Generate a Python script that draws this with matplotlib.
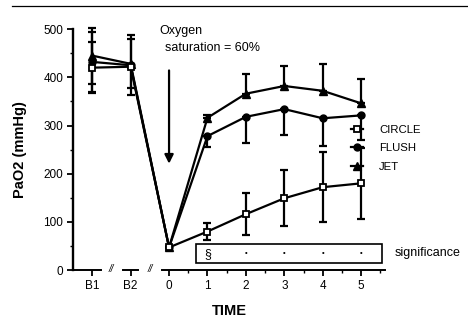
import numpy as np
import matplotlib.pyplot as plt
from matplotlib.patches import Rectangle

plt.rcParams['font.family'] = ['Liberation Sans', 'DejaVu Sans']

# time points: B1, B2 baselines, then 0..5
t = [-2, -1, 0, 1, 2, 3, 4, 5]
tick_labels = ['B1', 'B2', '0', '1', '2', '3', '4', '5']

circle = [420, 422, 47, 80, 116, 149, 172, 180]
circle_err = [53, 58, 0, 18, 43, 58, 72, 74]

flush = [432, 425, 47, 278, 318, 334, 315, 321]
flush_lo = [62, 47, 0, 22, 55, 54, 57, 51]
flush_hi = [62, 0, 0, 0, 0, 0, 0, 0]

jet = [445, 428, 47, 316, 366, 382, 372, 346]
jet_lo = [58, 0, 0, 0, 0, 0, 0, 0]
jet_hi = [58, 60, 0, 5, 40, 42, 55, 50]

sig_t = [1, 2, 3, 4, 5]
sig_marks = ['§', '•', '•', '•', '•']

fig = plt.figure(figsize=(4.68, 3.2), dpi=100)
ax = fig.add_axes([0.156, 0.156, 0.669, 0.753])

lw = 1.6
eb = dict(fmt='none', ecolor='k', elinewidth=lw, capsize=3, capthick=lw, clip_on=False)
ax.errorbar(t, jet, yerr=[jet_lo, jet_hi], **eb)
ax.errorbar(t, flush, yerr=[flush_lo, flush_hi], **eb)
ax.errorbar(t, circle, yerr=circle_err, **eb)

ax.plot(t, jet, color='k', lw=lw, marker='^', ms=5.5, mfc='k', mec='k', label='JET', clip_on=False)
ax.plot(t, flush, color='k', lw=lw, marker='o', ms=5, mfc='k', mec='k', label='FLUSH', clip_on=False)
ax.plot(t, circle, color='k', lw=lw, marker='s', ms=5, mfc='white', mec='k', mew=1.3,
        label='CIRCLE', clip_on=False, zorder=3)

h, l = ax.get_legend_handles_labels()
ax.legend(h[::-1], l[::-1], loc='upper left', bbox_to_anchor=(0.865, 0.63), frameon=False,
          handlelength=1.1, handletextpad=1.4, labelspacing=0.72, fontsize=8.2,
          borderaxespad=0.2)

# oxygen saturation arrow
ax.annotate('', xy=(0, 215), xytext=(0, 420),
            arrowprops=dict(arrowstyle='-|>', lw=lw, color='k', mutation_scale=13))
ax.text(-0.24, 496, 'Oxygen', fontsize=9, va='center', ha='left')
ax.text(-0.1, 461, 'saturation = 60%', fontsize=9, va='center', ha='left')

# significance strip
ax.add_patch(Rectangle((0.7, 15), 4.85, 39, fill=False, ec='k', lw=1.2))
for x, m in zip(sig_t, sig_marks):
    ax.text(x, 34, m, fontsize=9 if m == '§' else 5.5, ha='center', va='center')
ax.text(5.88, 35, 'significance', fontsize=9, va='center', ha='left', clip_on=False)

ax.set_xlim(-2.5, 5.65)
ax.set_ylim(0, 500)
ax.set_xticks(t)
ax.set_xticklabels(tick_labels)
ax.set_xticks(np.arange(0.5, 6, 1), minor=True)
ax.set_yticks(range(0, 501, 100))
ax.set_yticks(range(50, 500, 100), minor=True)
ax.tick_params(axis='both', which='major', direction='out', length=4, width=1.3,
               labelsize=8.5, pad=3)
ax.tick_params(axis='both', which='minor', direction='out', length=2.5, width=1.0)

for s in ['top', 'right']:
    ax.spines[s].set_visible(False)
ax.spines['left'].set_linewidth(1.7)
ax.spines['bottom'].set_linewidth(1.4)
ax.spines['bottom'].set_bounds(-0.18, 5.62)

# broken x-axis pieces for the baselines
for x0, x1 in [(-2.5, -1.77), (-1.2, -0.8)]:
    ax.plot([x0, x1], [0, 0], color='k', lw=1.4, clip_on=False)
for xb in [-1.5, -0.5]:
    ax.text(xb, 3, '//', fontsize=7, style='italic', ha='center', va='center')

ax.set_xlabel('TIME', fontsize=10.5, fontweight='bold', labelpad=9)
ax.set_ylabel('PaO2 (mmHg)', fontsize=10.5, fontweight='bold', labelpad=12)

fig.add_artist(plt.Line2D([0.025, 1.0], [0.982, 0.982], color='k', lw=0.9))

fig.savefig('out.png', dpi=100)
